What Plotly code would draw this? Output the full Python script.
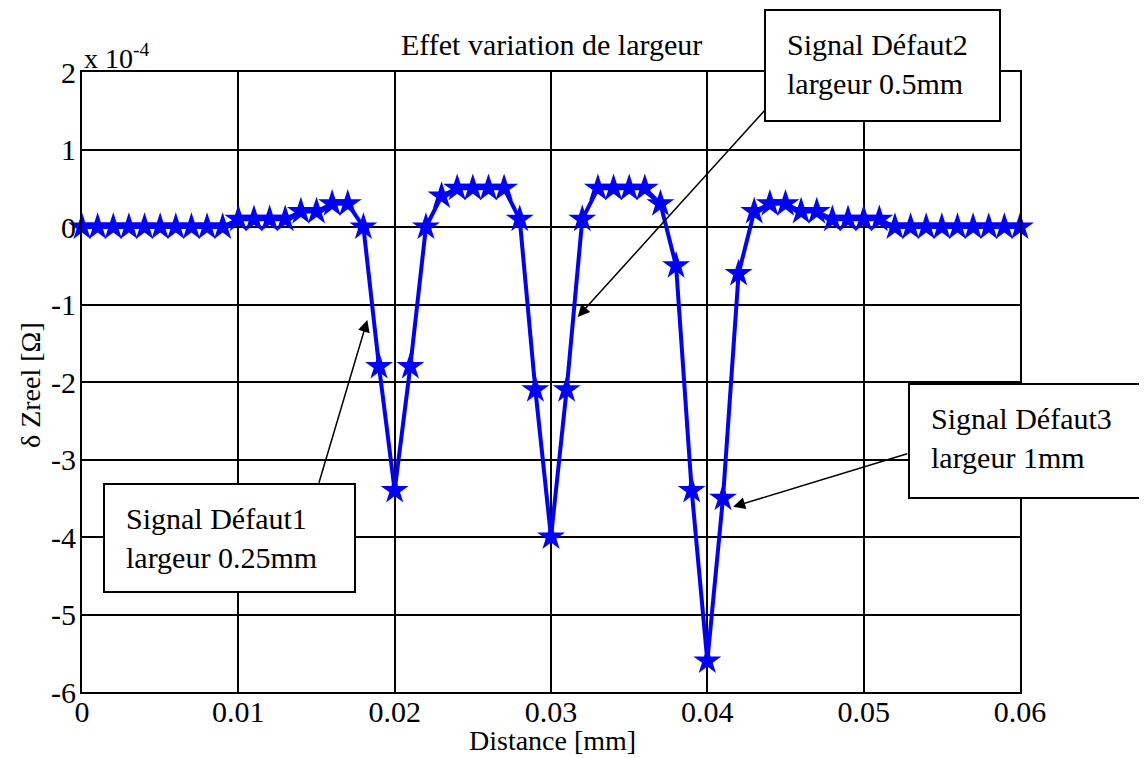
import plotly.graph_objects as go

# ---- data (y in units of 1e-4 Ohm) ----
distance_mm = [0.000, 0.001, 0.002, 0.003, 0.004, 0.005, 0.006, 0.007, 0.008, 0.009,
               0.010, 0.011, 0.012, 0.013, 0.014, 0.015, 0.016, 0.017, 0.018, 0.019,
               0.020, 0.021, 0.022, 0.023, 0.024, 0.025, 0.026, 0.027, 0.028, 0.029,
               0.030, 0.031, 0.032, 0.033, 0.034, 0.035, 0.036, 0.037, 0.038, 0.039,
               0.040, 0.041, 0.042, 0.043, 0.044, 0.045, 0.046, 0.047, 0.048, 0.049,
               0.050, 0.051, 0.052, 0.053, 0.054, 0.055, 0.056, 0.057, 0.058, 0.059,
               0.060]
dzreel_e4 = [0, 0, 0, 0, 0, 0, 0, 0, 0, 0,
             0.1, 0.1, 0.1, 0.1, 0.2, 0.2, 0.3, 0.3, 0.0, -1.8,
             -3.4, -1.8, 0.0, 0.4, 0.5, 0.5, 0.5, 0.5, 0.1, -2.1,
             -4.0, -2.1, 0.1, 0.5, 0.5, 0.5, 0.5, 0.3, -0.5, -3.4,
             -5.6, -3.5, -0.6, 0.2, 0.3, 0.3, 0.2, 0.2, 0.1, 0.1,
             0.1, 0.1, 0, 0, 0, 0, 0, 0, 0, 0,
             0]

x_ticks = [0, 0.01, 0.02, 0.03, 0.04, 0.05, 0.06]
x_tick_text = ["0", "0.01", "0.02", "0.03", "0.04", "0.05", "0.06"]
y_ticks = [2, 1, 0, -1, -2, -3, -4, -5, -6]
y_tick_text = ["2", "1", "0", "-1", "-2", "-3", "-4", "-5", "-6"]

labels = ["Signal Défaut1<br>largeur 0.25mm",
          "Signal Défaut2<br>largeur 0.5mm",
          "Signal Défaut3<br>largeur 1mm"]

# ---- layout geometry (screen pixels; page has an 8px body margin) ----
OFF = 8
W, H = 1147 - OFF, 758 - OFF
L, R, T, B = 82, 1020, 72, 692   # plot area on screen
pw, ph = R - L, B - T

def px(xp):
    return (xp - L) / pw

def py(yp):
    return (B - yp) / ph

FONT = "Liberation Serif"

fig = go.Figure()
fig.add_trace(go.Scatter(
    x=distance_mm, y=dzreel_e4, mode="lines+markers",
    line=dict(color="#0000FF", width=4),
    marker=dict(symbol="star", size=21, color="#0000FF",
                line=dict(width=0)),
    showlegend=False, cliponaxis=False,
))

# boxes (screen pixel rects) and texts
boxes = [(104, 484, 355, 592, 124, 538),
         (765, 10, 1000, 121, 785, 64),
         (909, 384, 1143, 498, 929, 438)]
shapes = []
annotations = []
for (x0, y0, x1, y1, tx, ty), lab in zip(boxes, labels):
    shapes.append(dict(type="rect", xref="paper", yref="paper",
                       x0=px(x0), x1=px(x1), y0=py(y1), y1=py(y0),
                       line=dict(color="black", width=2),
                       fillcolor="white", layer="above"))
    annotations.append(dict(xref="paper", yref="paper", x=px(tx), y=py(ty),
                            xanchor="left", yanchor="middle", align="left",
                            text=lab, showarrow=False,
                            font=dict(family=FONT, size=30, color="black")))

# arrows (head in data coords, tail in data coords)
arrows = [((0.01825, -1.20), (0.01513, -3.32)),
          ((0.03171, -1.16), (0.04378, 1.53)),
          ((0.04165, -3.61), (0.05288, -2.92))]
for (hx, hy), (tx, ty) in arrows:
    annotations.append(dict(x=hx, y=hy, ax=tx, ay=ty, xref="x", yref="y",
                            axref="x", ayref="y", text="", showarrow=True,
                            arrowhead=2, arrowsize=1.6, arrowwidth=1.5,
                            arrowcolor="black", standoff=0, startstandoff=0))

# exponent label
annotations.append(dict(xref="paper", yref="paper", x=0.0, y=1.0,
                        xanchor="left", yanchor="bottom", yshift=-4,
                        text="x 10<sup>-4</sup>", showarrow=False,
                        font=dict(family=FONT, size=28, color="black")))
# title
annotations.append(dict(xref="paper", yref="paper", x=0.5, y=py(44),
                        xanchor="center", yanchor="middle",
                        text="Effet variation de largeur", showarrow=False,
                        font=dict(family=FONT, size=30, color="black")))
# axis titles
annotations.append(dict(xref="paper", yref="paper", x=px(552), y=py(740),
                        xanchor="center", yanchor="middle",
                        text="Distance [mm]", showarrow=False,
                        font=dict(family=FONT, size=28, color="black")))
annotations.append(dict(xref="paper", yref="paper", x=px(30), y=py(385),
                        xanchor="center", yanchor="middle", textangle=-90,
                        text="δ Zreel [Ω]", showarrow=False,
                        font=dict(family=FONT, size=28, color="black")))

fig.update_layout(
    width=W, height=H,
    margin=dict(l=L - OFF, r=W - (R - OFF), t=T - OFF, b=H - (B - OFF),
                autoexpand=False),
    paper_bgcolor="white", plot_bgcolor="white",
    font=dict(family=FONT, size=28, color="black"),
    shapes=shapes, annotations=annotations,
    xaxis=dict(range=[0, 0.06], tickvals=x_ticks, ticktext=x_tick_text,
               showgrid=True, gridcolor="black", gridwidth=1.5,
               showline=True, linecolor="black", linewidth=2, mirror=True,
               zeroline=False, ticks="", automargin=False,
               ticklabelstandoff=-8,
               tickfont=dict(family=FONT, size=30)),
    yaxis=dict(range=[-6, 2], tickvals=y_ticks, ticktext=y_tick_text,
               showgrid=True, gridcolor="black", gridwidth=1.5,
               showline=True, linecolor="black", linewidth=2, mirror=True,
               zeroline=False, ticks="", automargin=False,
               ticklabelstandoff=-2,
               tickfont=dict(family=FONT, size=30)),
)

fig.write_html("out.html")
